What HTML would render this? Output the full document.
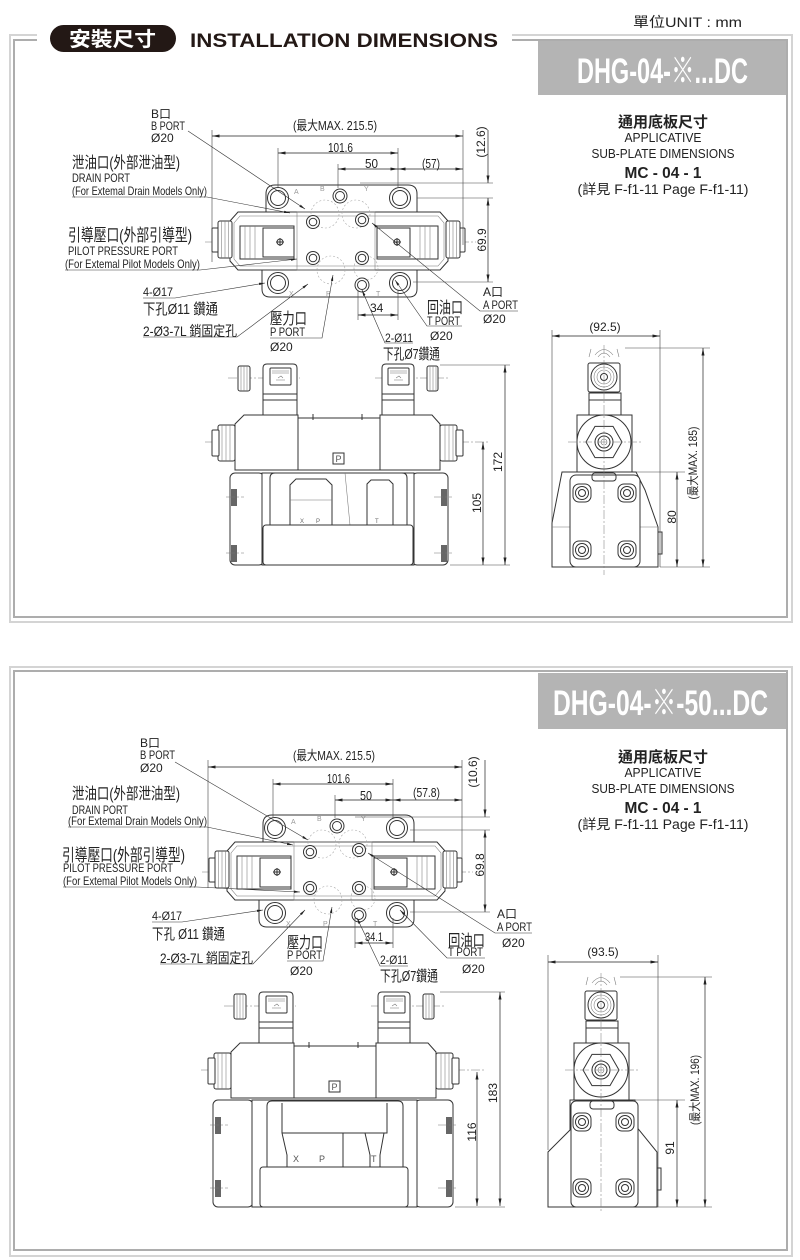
<!DOCTYPE html>
<html><head><meta charset="utf-8"><style>
html,body{margin:0;padding:0;background:#fff}
svg{display:block}
text{font-family:"Liberation Sans","Noto Sans CJK TC",sans-serif;fill:#222}
.o{fill:none;stroke:#333;stroke-width:1}
.w{fill:#fff;stroke:#333;stroke-width:1}
.t{fill:none;stroke:#777;stroke-width:.55}
.c{fill:none;stroke:#777;stroke-width:.5;stroke-dasharray:9 2 2 2}
.h{fill:none;stroke:#aaa;stroke-width:.6;stroke-dasharray:2 2}
.x{fill:none;stroke:#444;stroke-width:.6}
.dm{fill:none;stroke:#222;stroke-width:.7}
.ld{fill:none;stroke:#333;stroke-width:.6}
.gl{fill:#999;font-size:7px}
</style></head><body>
<svg width="800" height="1260" viewBox="0 0 800 1260" xmlns="http://www.w3.org/2000/svg">
<defs>
<marker id="ar" viewBox="0 0 10 4" refX="10" refY="2" markerWidth="9" markerHeight="3" orient="auto-start-reverse" markerUnits="userSpaceOnUse"><path d="M0,0L10,2L0,4z" fill="#222"/></marker>
<marker id="lr" viewBox="0 0 10 4" refX="10" refY="2" markerWidth="6" markerHeight="2.6" orient="auto-start-reverse" markerUnits="userSpaceOnUse"><path d="M0,0L10,2L0,4z" fill="#222"/></marker>

<g id="tv">
<path class="c" d="M205,242H476"/>
<path class="w" d="M266,214V194Q266,185 275,185H408Q417,185 417,194V214Z"/>
<path class="w" d="M262,266V289Q262,297 270,297H409Q417,297 417,289V266Z"/>
<path class="w" d="M230,221L238,212H440L448,221V261L440,270H238L230,261Z"/>
<path class="t" d="M234,223L240,216H438L444,223V259L438,266H240L234,259Z"/>
<rect class="w" x="212" y="228" width="7" height="24" rx="1"/>
<rect class="w" x="218" y="221" width="14" height="37" rx="2"/>
<path class="t" d="M221.5,221V258M225,221V258M228.5,221V258"/>
<rect class="w" x="459" y="228" width="6" height="24" rx="1"/>
<rect class="w" x="446" y="221" width="14" height="37" rx="2"/>
<path class="t" d="M449.5,221V258M453,221V258M456.5,221V258"/>
<rect class="o" x="240" y="226" width="54" height="33"/>
<rect class="o" x="263" y="228" width="31" height="29"/>
<path class="t" d="M245,226V259M250,226V259M255,226V259"/>
<rect class="o" x="377" y="226" width="61" height="33"/>
<rect class="o" x="377" y="228" width="33" height="29"/>
<path class="t" d="M420,226V259M425,226V259M430,226V259"/>
<circle class="o" cx="280" cy="242" r="3"/><path class="o" d="M276,242H284M280,238V246"/>
<circle class="o" cx="397" cy="242" r="3"/><path class="o" d="M393,242H401M397,238V246"/>
<rect class="t" x="297" y="212" width="78" height="58"/>
<g class="h"><circle cx="325" cy="214" r="14"/><circle cx="356" cy="214" r="14"/><circle cx="331" cy="270" r="14"/><circle cx="366" cy="268" r="12"/></g>
<g class="w"><circle cx="278" cy="198" r="10.5"/><circle cx="400" cy="198" r="10.5"/><circle cx="340" cy="196" r="7"/><circle cx="278" cy="283" r="10.5"/><circle cx="400" cy="283" r="10.5"/><circle cx="362" cy="285" r="7"/>
<circle cx="313" cy="222" r="6.5"/><circle cx="362" cy="220" r="6.5"/><circle cx="313" cy="258" r="6.5"/><circle cx="362" cy="258" r="6.5"/></g>
<g class="o"><circle cx="278" cy="198" r="7.5"/><circle cx="400" cy="198" r="7.5"/><circle cx="340" cy="196" r="4.5"/><circle cx="278" cy="283" r="7.5"/><circle cx="400" cy="283" r="7.5"/><circle cx="362" cy="285" r="4.5"/>
<circle cx="313" cy="222" r="3.8"/><circle cx="362" cy="220" r="3.8"/><circle cx="313" cy="258" r="3.8"/><circle cx="362" cy="258" r="3.8"/></g>
<text class="gl" x="294" y="194" style="fill:#999">A</text>
<text class="gl" x="320" y="191" style="fill:#999">B</text>
<text class="gl" x="364" y="191" style="fill:#999">Y</text>
<text class="gl" x="289" y="296" style="fill:#999">X</text>
<text class="gl" x="326" y="296" style="fill:#999">P</text>
<text class="gl" x="376" y="296" style="fill:#999">T</text>
</g>

<g id="fu">
<path class="c" d="M205,442H490"/>
<path class="c" d="M228,378H300M375,378H448"/>
<rect class="w" x="238" y="366" width="12" height="25" rx="2"/>
<path class="t" d="M241,366V391M244,366V391M247,366V391"/>
<path class="w" d="M263,394V368Q263,364 267,364H293Q297,364 297,368V394Z"/>
<rect class="o" x="270" y="368" width="21" height="17" rx="1"/>
<path class="t" d="M272,371H289M272,373H289M276,380H285M278,378L281,376L283,378"/>
<rect class="w" x="263" y="394" width="34" height="21"/>
<path class="o" d="M263,400H297"/>
<path class="w" d="M382,394V368Q382,364 386,364H410Q414,364 414,368V394Z"/>
<rect class="o" x="388" y="368" width="21" height="17" rx="1"/>
<path class="t" d="M390,371H407M390,373H407M394,380H403M396,378L399,376L401,378"/>
<rect class="w" x="427" y="366" width="11" height="25" rx="2"/>
<path class="t" d="M430,366V391M433,366V391M436,366V391"/>
<rect class="w" x="382" y="394" width="32" height="21"/>
<path class="o" d="M382,400H414"/>
<path class="w" d="M235,424L244,415H298V470H235Z"/>
<path class="w" d="M380,415H432L440,424V470H380Z"/>
<rect class="w" x="298" y="418" width="82" height="52"/>
<path class="o" d="M313,414V420M362,414V420"/>
<rect class="w" x="218" y="425" width="17" height="36" rx="2"/>
<path class="t" d="M222,425V461M226,425V461M230,425V461"/>
<rect class="w" x="212" y="430" width="7" height="26" rx="1"/>
<rect class="w" x="440" y="425" width="17" height="36" rx="2"/>
<path class="t" d="M445,425V461M449,425V461M453,425V461"/>
<rect class="w" x="456" y="430" width="7" height="26" rx="1"/>
<rect class="o" x="333" y="453" width="11" height="11"/>
<text x="335.5" y="462" style="font-size:9px;fill:#555">P</text>
</g>

<g id="su">
<path class="t" d="M589,357L591,349M619,357L617,349M595,355Q604,344 613,355M598,357Q604,349 610,357"/>
<rect class="w" x="588" y="363" width="32" height="29" rx="2"/>
<circle class="o" cx="604" cy="377" r="13"/><circle class="t" cx="604" cy="377" r="10"/><circle class="t" cx="604" cy="377" r="7"/><circle class="o" cx="604" cy="377" r="3.5"/>
<rect class="w" x="589" y="393" width="32" height="22"/>
<path class="o" d="M589,400H621"/>
<rect class="w" x="577" y="415" width="55" height="57"/>
<circle class="o" cx="604" cy="442" r="27"/>
<polygon class="o" points="622,442 613,457.6 595,457.6 586,442 595,426.4 613,426.4"/>
<circle class="o" cx="604" cy="442" r="9"/><circle class="o" cx="604" cy="442" r="6"/><circle class="t" cx="604" cy="442" r="3"/>
<path class="c" d="M568,442H642"/>
</g>
</defs>

<!-- ============ FRAMES ============ -->
<path d="M37,35H10V622H792V35H512" fill="none" stroke="#d4d4d4" stroke-width="2"/>
<path d="M37,40H14V617H787V40H512" fill="none" stroke="#adadad" stroke-width="2"/>
<rect x="10" y="667" width="782" height="589" fill="none" stroke="#d4d4d4" stroke-width="2"/>
<rect x="14" y="671" width="773" height="579" fill="none" stroke="#adadad" stroke-width="2"/>

<!-- title -->
<rect x="50" y="25" width="126" height="27" rx="13.5" fill="#231815"/>
<text x="69" y="46" style="font-size:20px;font-weight:bold;fill:#fff" textLength="87" lengthAdjust="spacingAndGlyphs">安裝尺寸</text>
<text x="190" y="47" style="font-size:19px;font-weight:bold;fill:#231815" textLength="308" lengthAdjust="spacingAndGlyphs">INSTALLATION DIMENSIONS</text>
<text x="633" y="27" style="font-size:14px" textLength="109" lengthAdjust="spacingAndGlyphs">單位UNIT : mm</text>

<rect x="538" y="41" width="248" height="54" fill="#b4b4b4"/>
<text x="577" y="83" style="font-size:35px;font-weight:bold;fill:#fff" textLength="171" lengthAdjust="spacingAndGlyphs">DHG-04-※...DC</text>
<rect x="538" y="673" width="248" height="56" fill="#b4b4b4"/>
<text x="553" y="715" style="font-size:35px;font-weight:bold;fill:#fff" textLength="215" lengthAdjust="spacingAndGlyphs">DHG-04-※-50...DC</text>

<!-- applicative -->
<g text-anchor="middle">
<text x="663" y="127" style="font-size:15px;font-weight:bold">通用底板尺寸</text>
<text x="663" y="142" style="font-size:12.5px" textLength="77" lengthAdjust="spacingAndGlyphs">APPLICATIVE</text>
<text x="663" y="158" style="font-size:12.5px" textLength="143" lengthAdjust="spacingAndGlyphs">SUB-PLATE DIMENSIONS</text>
<text x="663" y="178" style="font-size:16px;font-weight:bold" textLength="77" lengthAdjust="spacingAndGlyphs">MC - 04 - 1</text>
<text x="663" y="194" style="font-size:13.5px" textLength="171" lengthAdjust="spacingAndGlyphs">(詳見 F-f1-11  Page F-f1-11)</text>
<text x="663" y="762" style="font-size:15px;font-weight:bold">通用底板尺寸</text>
<text x="663" y="777" style="font-size:12.5px" textLength="77" lengthAdjust="spacingAndGlyphs">APPLICATIVE</text>
<text x="663" y="793" style="font-size:12.5px" textLength="143" lengthAdjust="spacingAndGlyphs">SUB-PLATE DIMENSIONS</text>
<text x="663" y="813" style="font-size:16px;font-weight:bold" textLength="77" lengthAdjust="spacingAndGlyphs">MC - 04 - 1</text>
<text x="663" y="829" style="font-size:13.5px" textLength="171" lengthAdjust="spacingAndGlyphs">(詳見 F-f1-11  Page F-f1-11)</text>
</g>

<!-- ============ SECTION 1 ============ -->
<use href="#tv"/>
<path class="x" d="M212,130V262M463,130V245M278,148V188M398,148V188M338,164V188M360,183H493M417,198H493M413,282H493M358,290V320M398,290V320"/>
<path class="dm" d="M212,136H463" marker-start="url(#ar)" marker-end="url(#ar)"/>
<path class="dm" d="M278,153H398" marker-start="url(#ar)" marker-end="url(#ar)"/>
<path class="dm" d="M338,169H398" marker-start="url(#ar)" marker-end="url(#ar)"/>
<path class="dm" d="M398,169H463" marker-start="url(#ar)" marker-end="url(#ar)"/>
<path class="dm" d="M488,130V183" marker-end="url(#ar)"/>
<path class="dm" d="M488,198V282" marker-start="url(#ar)" marker-end="url(#ar)"/>
<path class="dm" d="M358,315H398" marker-start="url(#ar)" marker-end="url(#ar)"/>
<path class="ld" d="M188,131L305,209" marker-end="url(#lr)"/>
<path class="ld" d="M72,197H207L290,213" marker-end="url(#lr)"/>
<path class="ld" d="M65,270H200L297,259" marker-end="url(#lr)"/>
<path class="ld" d="M143,298H175L265,283" marker-end="url(#lr)"/>
<path class="ld" d="M143,337H237L308,284" marker-end="url(#lr)"/>
<path class="ld" d="M270,338H322L333,275" marker-end="url(#lr)"/>
<path class="ld" d="M413,343H385L362,290" marker-end="url(#lr)"/>
<path class="ld" d="M462,326H427L395,280" marker-end="url(#lr)"/>
<path class="ld" d="M518,311H480L372,223" marker-end="url(#lr)"/>
<text x="151" y="118" style="font-size:12px">B口</text>
<text x="151" y="130" style="font-size:12px" textLength="34" lengthAdjust="spacingAndGlyphs">B PORT</text>
<text x="151" y="142" style="font-size:12px">Ø20</text>
<text x="293" y="130" style="font-size:13px" textLength="84" lengthAdjust="spacingAndGlyphs">(最大MAX. 215.5)</text>
<text x="328" y="152" style="font-size:13px" textLength="25" lengthAdjust="spacingAndGlyphs">101.6</text>
<text x="365" y="168" style="font-size:13px" textLength="13" lengthAdjust="spacingAndGlyphs">50</text>
<text x="422" y="168" style="font-size:13px" textLength="18" lengthAdjust="spacingAndGlyphs">(57)</text>
<text x="72" y="168" style="font-size:16px" textLength="108" lengthAdjust="spacingAndGlyphs">泄油口(外部泄油型)</text>
<text x="72" y="182" style="font-size:12px" textLength="58" lengthAdjust="spacingAndGlyphs">DRAIN PORT</text>
<text x="72" y="195" style="font-size:12px" textLength="135" lengthAdjust="spacingAndGlyphs">(For Extemal Drain Models Only)</text>
<text x="68" y="241" style="font-size:17px" textLength="124" lengthAdjust="spacingAndGlyphs">引導壓口(外部引導型)</text>
<text x="68" y="255" style="font-size:12px" textLength="110" lengthAdjust="spacingAndGlyphs">PILOT PRESSURE PORT</text>
<text x="65" y="268" style="font-size:12px" textLength="135" lengthAdjust="spacingAndGlyphs">(For Extemal Pilot Models Only)</text>
<text x="143" y="296" style="font-size:12px" textLength="30" lengthAdjust="spacingAndGlyphs">4-Ø17</text>
<text x="143" y="314" style="font-size:15px" textLength="75" lengthAdjust="spacingAndGlyphs">下孔Ø11 鑽通</text>
<text x="143" y="336" style="font-size:14px" textLength="94" lengthAdjust="spacingAndGlyphs">2-Ø3-7L 銷固定孔</text>
<text x="270" y="324" style="font-size:16px" textLength="37" lengthAdjust="spacingAndGlyphs">壓力口</text>
<text x="270" y="336" style="font-size:12px" textLength="35" lengthAdjust="spacingAndGlyphs">P PORT</text>
<text x="270" y="351" style="font-size:12px">Ø20</text>
<text x="370" y="312" style="font-size:12px">34</text>
<text x="385" y="342" style="font-size:12px" textLength="28" lengthAdjust="spacingAndGlyphs">2-Ø11</text>
<text x="383" y="359" style="font-size:15px" textLength="57" lengthAdjust="spacingAndGlyphs">下孔Ø7鑽通</text>
<text x="427" y="313" style="font-size:16px" textLength="36" lengthAdjust="spacingAndGlyphs">回油口</text>
<text x="427" y="325" style="font-size:12px" textLength="33" lengthAdjust="spacingAndGlyphs">T PORT</text>
<text x="430" y="340" style="font-size:12px">Ø20</text>
<text x="483" y="296" style="font-size:12px">A口</text>
<text x="483" y="309" style="font-size:12px" textLength="35" lengthAdjust="spacingAndGlyphs">A PORT</text>
<text x="483" y="323" style="font-size:12px">Ø20</text>
<g text-anchor="middle" style="font-size:12px">
<text transform="translate(485,142) rotate(-90)">(12.6)</text>
<text transform="translate(486,240) rotate(-90)">69.9</text>
</g>

<!-- front view 1 -->
<use href="#fu"/>
<rect class="w" x="230" y="473" width="34" height="92" rx="5"/>
<rect class="w" x="412" y="473" width="36" height="92" rx="5"/>
<rect class="w" x="262" y="473" width="152" height="92"/>
<path class="o" d="M270,525V478Q270,473 275,473H402Q407,473 407,478V525"/>
<path class="o" d="M290,525V485L296,479H326L332,485V525"/>
<path class="o" d="M367,525V484L371,480H389L393,484V525"/>
<path class="t" d="M345,473L350,525M290,500H332"/>
<rect class="w" x="263" y="525" width="150" height="40" rx="3"/>
<rect x="231" y="489" width="6" height="17" fill="#666"/>
<rect x="231" y="545" width="6" height="17" fill="#666"/>
<rect x="441" y="489" width="6" height="17" fill="#666"/>
<rect x="441" y="545" width="6" height="17" fill="#666"/>
<path class="c" d="M226,497H244M226,553H244M434,497H452M434,553H452"/>
<text x="300" y="523" style="font-size:6px;fill:#666">X</text>
<text x="316" y="523" style="font-size:6px;fill:#666">P</text>
<text x="375" y="523" style="font-size:6px;fill:#666">T</text>
<path class="x" d="M440,365H510M450,565H510"/>
<path class="dm" d="M505,365V565" marker-start="url(#ar)" marker-end="url(#ar)"/>
<path class="dm" d="M483,442V565" marker-start="url(#ar)" marker-end="url(#ar)"/>
<g text-anchor="middle" style="font-size:12px">
<text transform="translate(502,462) rotate(-90)">172</text>
<text transform="translate(481,503) rotate(-90)">105</text>
</g>

<!-- side view 1 -->
<use href="#su"/>
<path class="w" d="M562,472L552,523V567H658V527L645,490L636,472Z"/>
<path class="t" d="M552,527H570M640,527H658"/>
<rect class="w" x="570" y="475" width="70" height="92" rx="6"/>
<rect class="o" x="592" y="473" width="24" height="8" rx="3"/>
<g class="o"><rect x="573" y="484" width="18" height="18" rx="6"/><rect x="618" y="484" width="18" height="18" rx="6"/><rect x="573" y="541" width="18" height="18" rx="6"/><rect x="618" y="541" width="18" height="18" rx="6"/></g>
<g class="w"><circle cx="582" cy="493" r="6.5"/><circle cx="627" cy="493" r="6.5"/><circle cx="582" cy="550" r="6.5"/><circle cx="627" cy="550" r="6.5"/></g>
<g class="o"><circle cx="582" cy="493" r="3.5"/><circle cx="627" cy="493" r="3.5"/><circle cx="582" cy="550" r="3.5"/><circle cx="627" cy="550" r="3.5"/></g>
<rect class="w" x="658" y="532" width="4" height="22"/>
<path class="c" d="M604,345V575"/>
<path class="x" d="M552,330V523M660,330V567M625,348H710M660,567H710M636,472H685"/>
<path class="dm" d="M552,336H660" marker-start="url(#ar)" marker-end="url(#ar)"/>
<path class="dm" d="M703,348V567" marker-start="url(#ar)" marker-end="url(#ar)"/>
<path class="dm" d="M677,472V567" marker-start="url(#ar)" marker-end="url(#ar)"/>
<text x="605" y="331" text-anchor="middle" style="font-size:12px">(92.5)</text>
<g text-anchor="middle" style="font-size:12px">
<text transform="translate(697,463) rotate(-90)" textLength="73" lengthAdjust="spacingAndGlyphs">(最大MAX. 185)</text>
<text transform="translate(676,517) rotate(-90)">80</text>
</g>

<!-- ============ SECTION 2 ============ -->
<use href="#tv" transform="translate(-3,630)"/>
<path class="x" d="M208,760V888M462,760V870M273,779V818M393,779V818M335,795V818M355,817H490M410,830H490M410,912H490M355,918V948M393,918V948"/>
<path class="dm" d="M208,767H462" marker-start="url(#ar)" marker-end="url(#ar)"/>
<path class="dm" d="M273,784H393" marker-start="url(#ar)" marker-end="url(#ar)"/>
<path class="dm" d="M335,800H393" marker-start="url(#ar)" marker-end="url(#ar)"/>
<path class="dm" d="M393,800H462" marker-start="url(#ar)" marker-end="url(#ar)"/>
<path class="dm" d="M485,760V817" marker-end="url(#ar)"/>
<path class="dm" d="M485,830V912" marker-start="url(#ar)" marker-end="url(#ar)"/>
<path class="dm" d="M355,943H393" marker-start="url(#ar)" marker-end="url(#ar)"/>
<path class="ld" d="M175,762L308,840" marker-end="url(#lr)"/>
<path class="ld" d="M68,827H207L293,845" marker-end="url(#lr)"/>
<path class="ld" d="M63,887H197L300,892" marker-end="url(#lr)"/>
<path class="ld" d="M152,922H182L263,910" marker-end="url(#lr)"/>
<path class="ld" d="M160,964H253L305,910" marker-end="url(#lr)"/>
<path class="ld" d="M287,961H323L332,907" marker-end="url(#lr)"/>
<path class="ld" d="M408,966H380L357,918" marker-end="url(#lr)"/>
<path class="ld" d="M485,958H447L400,910" marker-end="url(#lr)"/>
<path class="ld" d="M532,933H495L368,853" marker-end="url(#lr)"/>
<text x="140" y="747" style="font-size:12px">B口</text>
<text x="140" y="759" style="font-size:12px" textLength="35" lengthAdjust="spacingAndGlyphs">B PORT</text>
<text x="140" y="772" style="font-size:12px">Ø20</text>
<text x="293" y="760" style="font-size:13px" textLength="82" lengthAdjust="spacingAndGlyphs">(最大MAX. 215.5)</text>
<text x="327" y="783" style="font-size:13px" textLength="23" lengthAdjust="spacingAndGlyphs">101.6</text>
<text x="360" y="800" style="font-size:13px" textLength="12" lengthAdjust="spacingAndGlyphs">50</text>
<text x="413" y="797" style="font-size:13px" textLength="27" lengthAdjust="spacingAndGlyphs">(57.8)</text>
<text x="72" y="799" style="font-size:16px" textLength="108" lengthAdjust="spacingAndGlyphs">泄油口(外部泄油型)</text>
<text x="72" y="814" style="font-size:12px" textLength="56" lengthAdjust="spacingAndGlyphs">DRAIN PORT</text>
<text x="68" y="825" style="font-size:12px" textLength="139" lengthAdjust="spacingAndGlyphs">(For Extemal Drain Models Only)</text>
<text x="62" y="861" style="font-size:17px" textLength="123" lengthAdjust="spacingAndGlyphs">引導壓口(外部引導型)</text>
<text x="63" y="872" style="font-size:12px" textLength="110" lengthAdjust="spacingAndGlyphs">PILOT PRESSURE PORT</text>
<text x="63" y="885" style="font-size:12px" textLength="134" lengthAdjust="spacingAndGlyphs">(For Extemal Pilot Models Only)</text>
<text x="152" y="920" style="font-size:12px" textLength="30" lengthAdjust="spacingAndGlyphs">4-Ø17</text>
<text x="152" y="939" style="font-size:15px" textLength="73" lengthAdjust="spacingAndGlyphs">下孔 Ø11 鑽通</text>
<text x="160" y="963" style="font-size:14px" textLength="93" lengthAdjust="spacingAndGlyphs">2-Ø3-7L 銷固定孔</text>
<text x="287" y="948" style="font-size:16px" textLength="36" lengthAdjust="spacingAndGlyphs">壓力口</text>
<text x="287" y="959" style="font-size:12px" textLength="35" lengthAdjust="spacingAndGlyphs">P PORT</text>
<text x="290" y="975" style="font-size:12px">Ø20</text>
<text x="365" y="941" style="font-size:12px" textLength="18" lengthAdjust="spacingAndGlyphs">34.1</text>
<text x="380" y="964" style="font-size:12px" textLength="28" lengthAdjust="spacingAndGlyphs">2-Ø11</text>
<text x="380" y="981" style="font-size:15px" textLength="58" lengthAdjust="spacingAndGlyphs">下孔Ø7鑽通</text>
<text x="448" y="946" style="font-size:16px" textLength="37" lengthAdjust="spacingAndGlyphs">回油口</text>
<text x="448" y="956" style="font-size:12px" textLength="35" lengthAdjust="spacingAndGlyphs">T PORT</text>
<text x="462" y="973" style="font-size:12px">Ø20</text>
<text x="497" y="918" style="font-size:12px">A口</text>
<text x="497" y="931" style="font-size:12px" textLength="35" lengthAdjust="spacingAndGlyphs">A PORT</text>
<text x="502" y="947" style="font-size:12px">Ø20</text>
<g text-anchor="middle" style="font-size:12px">
<text transform="translate(477,772) rotate(-90)">(10.6)</text>
<text transform="translate(484,865) rotate(-90)">69.8</text>
</g>

<!-- front view 2 -->
<use href="#fu" transform="translate(-4,628)"/>
<rect class="w" x="213" y="1100" width="40" height="107" rx="5"/>
<rect class="w" x="415" y="1100" width="38" height="107" rx="5"/>
<rect class="w" x="252" y="1100" width="165" height="107"/>
<path class="o" d="M267,1167V1106Q267,1101 272,1101H398Q403,1101 403,1106V1167"/>
<path class="o" d="M282,1103V1133L287,1155V1167M282,1133H387V1103M343,1133V1167M365,1133L370,1155V1167M384,1133L380,1155V1167"/>
<rect class="w" x="260" y="1167" width="148" height="40" rx="3"/>
<rect x="215" y="1117" width="6" height="17" fill="#666"/>
<rect x="215" y="1180" width="6" height="17" fill="#666"/>
<rect x="446" y="1117" width="6" height="17" fill="#666"/>
<rect x="446" y="1180" width="6" height="17" fill="#666"/>
<path class="c" d="M210,1125H228M210,1188H228M438,1125H456M438,1188H456"/>
<text x="293" y="1162" style="font-size:9px;fill:#555">X</text>
<text x="319" y="1162" style="font-size:9px;fill:#555">P</text>
<text x="371" y="1162" style="font-size:9px;fill:#555">T</text>
<path class="x" d="M440,992H505M455,1207H505"/>
<path class="dm" d="M500,992V1206" marker-start="url(#ar)" marker-end="url(#ar)"/>
<path class="dm" d="M477,1072V1206" marker-start="url(#ar)" marker-end="url(#ar)"/>
<g text-anchor="middle" style="font-size:12px">
<text transform="translate(497,1093) rotate(-90)">183</text>
<text transform="translate(476,1132) rotate(-90)">116</text>
</g>

<!-- side view 2 -->
<use href="#su" transform="translate(-3,628)"/>
<path class="w" d="M570,1100V1130L548,1152V1207H657V1152L635,1125V1100Z"/>
<rect class="w" x="571" y="1101" width="67" height="106" rx="5"/>
<rect class="o" x="590" y="1101" width="24" height="8" rx="3"/>
<g class="o"><rect x="573" y="1113" width="18" height="18" rx="6"/><rect x="616" y="1113" width="18" height="18" rx="6"/><rect x="573" y="1179" width="18" height="18" rx="6"/><rect x="616" y="1179" width="18" height="18" rx="6"/></g>
<g class="w"><circle cx="582" cy="1122" r="6.5"/><circle cx="625" cy="1122" r="6.5"/><circle cx="582" cy="1188" r="6.5"/><circle cx="625" cy="1188" r="6.5"/></g>
<g class="o"><circle cx="582" cy="1122" r="3.5"/><circle cx="625" cy="1122" r="3.5"/><circle cx="582" cy="1188" r="3.5"/><circle cx="625" cy="1188" r="3.5"/></g>
<rect class="w" x="657" y="1168" width="4" height="22"/>
<path class="c" d="M601,973V1213"/>
<path class="x" d="M548,955V1150M658,955V1207M620,977H712M657,1207H712M635,1100H685"/>
<path class="dm" d="M548,962H658" marker-start="url(#ar)" marker-end="url(#ar)"/>
<path class="dm" d="M705,977V1207" marker-start="url(#ar)" marker-end="url(#ar)"/>
<path class="dm" d="M677,1100V1207" marker-start="url(#ar)" marker-end="url(#ar)"/>
<text x="603" y="956" text-anchor="middle" style="font-size:12px">(93.5)</text>
<g text-anchor="middle" style="font-size:12px">
<text transform="translate(699,1090) rotate(-90)" textLength="70" lengthAdjust="spacingAndGlyphs">(最大MAX. 196)</text>
<text transform="translate(674,1148) rotate(-90)">91</text>
</g>
</svg>
</body></html>
